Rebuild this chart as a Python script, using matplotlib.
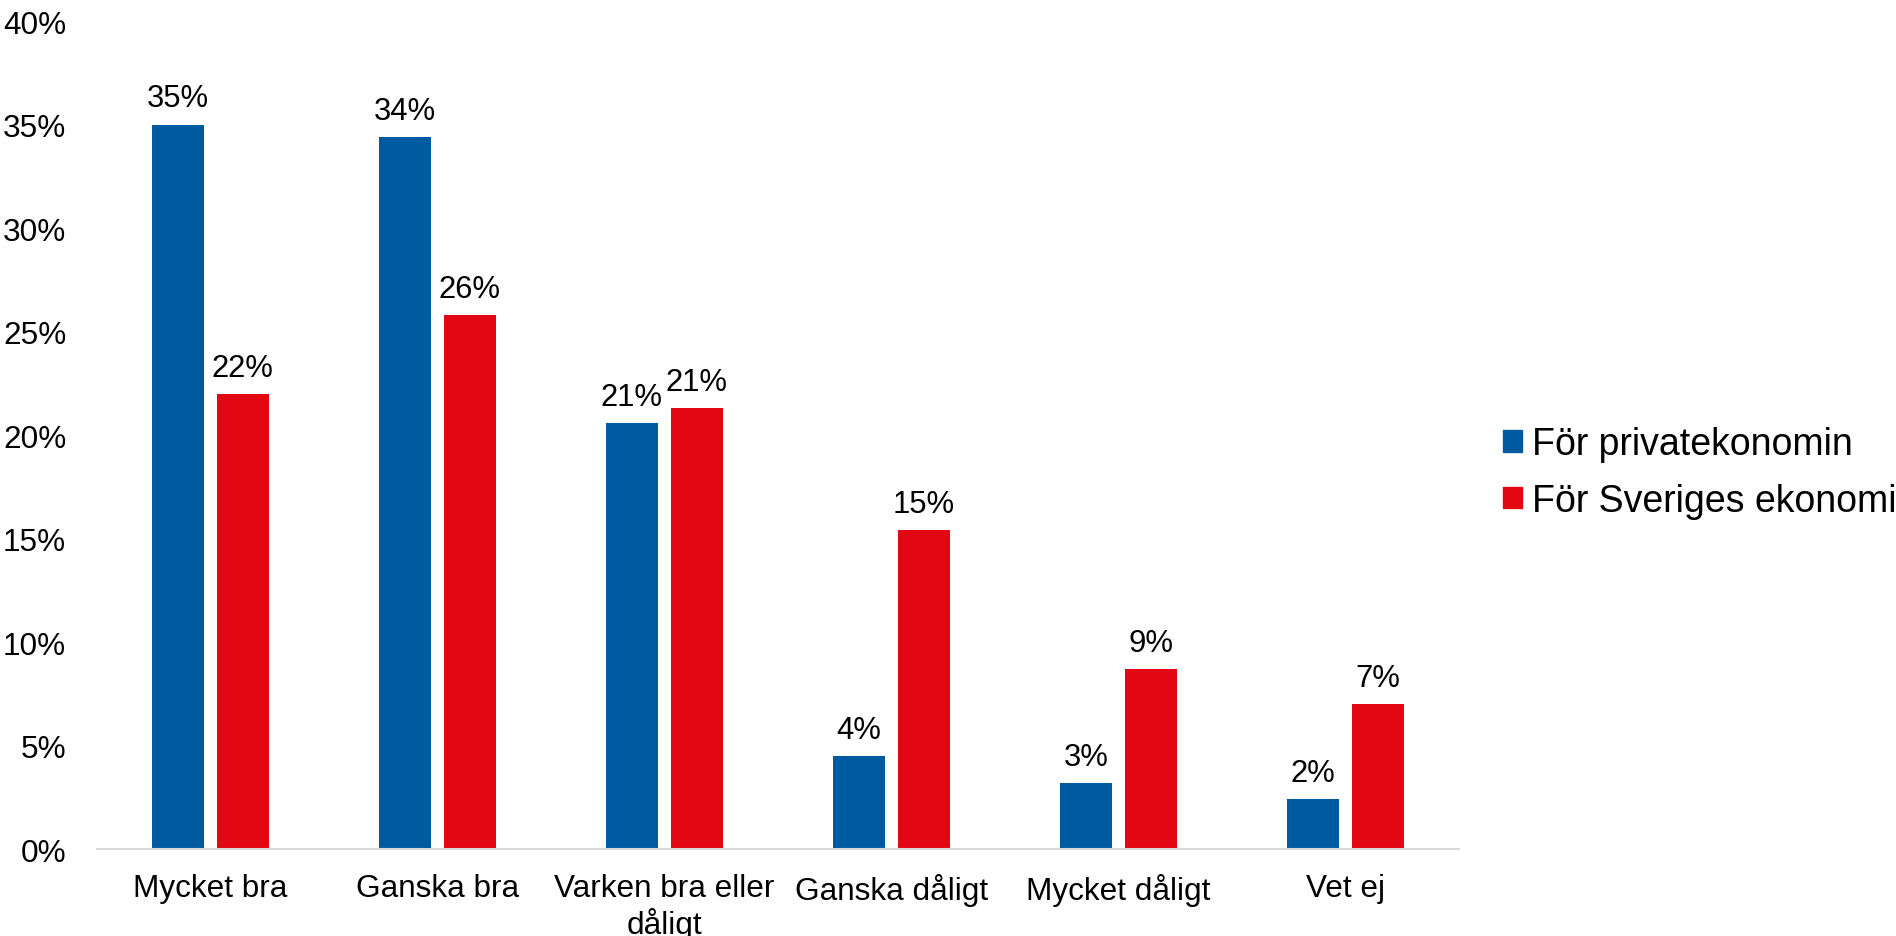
import matplotlib
matplotlib.use("Agg")
import matplotlib.pyplot as plt
import numpy as np
from matplotlib.patches import Patch
from matplotlib.ticker import FuncFormatter, MultipleLocator

categories = ["Mycket bra", "Ganska bra", "Varken bra eller\ndåligt", "Ganska dåligt", "Mycket dåligt", "Vet ej"]
series_names = ["För privatekonomin", "För Sveriges ekonomi"]
privat = [35.0, 34.4, 20.6, 4.5, 3.2, 2.4]
sverige = [22.0, 25.8, 21.3, 15.4, 8.7, 7.0]
labels_privat = ["35%", "34%", "21%", "4%", "3%", "2%"]
labels_sverige = ["22%", "26%", "21%", "15%", "9%", "7%"]

BLUE = "#005AA0"
RED = "#E30613"

plt.rcParams["font.family"] = ["Liberation Sans", "DejaVu Sans"]

fig = plt.figure(figsize=(18.96, 9.37), dpi=100)
ax = fig.add_axes([0.051, 0.0928, 0.7185, 0.8837])

x = np.arange(len(categories))
w = 0.229
off = 0.1435
b1 = ax.bar(x - off, privat, width=w, color=BLUE)
b2 = ax.bar(x + off, sverige, width=w, color=RED)

for bars, labs in ((b1, labels_privat), (b2, labels_sverige)):
    for rect, lab in zip(bars, labs):
        ax.annotate(lab, (rect.get_x() + rect.get_width() / 2, rect.get_height()),
                    xytext=(0, 13), textcoords="offset points",
                    ha="center", va="baseline", fontsize=22.3)

ax.set_xlim(-0.5, len(categories) - 0.5)
ax.set_ylim(0, 40)
ax.yaxis.set_major_locator(MultipleLocator(5))
ax.yaxis.set_major_formatter(FuncFormatter(lambda v, p: f"{v:.0f}%"))
ax.set_xticks(x)
ax.set_xticklabels(categories, fontsize=22.7, linespacing=1.15)
ax.tick_params(axis="y", length=0, pad=22, labelsize=22.7)
ax.tick_params(axis="x", length=0, pad=17)

for s in ("top", "right", "left"):
    ax.spines[s].set_visible(False)
ax.spines["bottom"].set_color("#D9D9D9")
ax.spines["bottom"].set_linewidth(1.5)

handles = [Patch(color=BLUE), Patch(color=RED)]
fig.legend(handles, series_names, loc="center left", bbox_to_anchor=(0.7927, 0.4947),
           frameon=False, fontsize=27, handlelength=0.5, handleheight=0.5,
           handletextpad=0.27, labelspacing=0.55, borderpad=0, borderaxespad=0)

fig.savefig("out.png", dpi=100)
